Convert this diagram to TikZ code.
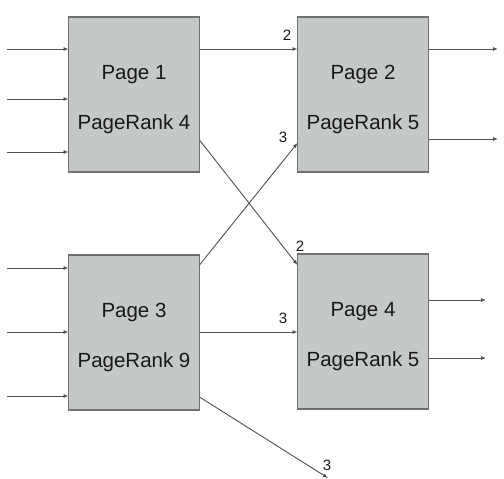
\documentclass[tikz,border=0pt]{standalone}
\usepackage{fontspec}
\setmainfont{Liberation Sans}
\usetikzlibrary{arrows.meta}
\definecolor{boxfill}{HTML}{C4C8C6}
\definecolor{boxline}{HTML}{707070}
\definecolor{linkline}{HTML}{505050}
\begin{document}
\begin{tikzpicture}[x=1pt,y=-1pt,
  pagebox/.style={draw=boxline,line width=1.2pt,fill=boxfill,inner sep=0pt,outer sep=0pt,
    minimum width=131pt,minimum height=155pt},
  pagetext/.style={font=\fontsize{20.5}{24}\selectfont,text=black!90,inner sep=0pt,anchor=base},
  link/.style={draw=linkline,line width=0.9pt,-{Latex[length=5pt,width=4pt]}},
  weight/.style={font=\fontsize{15}{15}\selectfont,text=black!90,inner sep=0pt}]
  \useasboundingbox (0,0) rectangle (504,479);

  % the four pages
  \node[pagebox] (p1) at (134,94.5) {};
  \node[pagebox] (p2) at (363,94.5) {};
  \node[pagebox] (p3) at (134,332.5) {};
  \node[pagebox] (p4) at (363,331.5) {};

  % page titles and ranks
  \foreach \p/\r in {1/4,2/5,3/9,4/5} {
    \node[pagetext] (t\p) at ([yshift=15.5pt]p\p.center) {Page \p};
    \node[pagetext] (r\p) at ([yshift=-34.5pt]p\p.center) {PageRank \r};
  }

  % loose ends of the incoming and outgoing links
  \foreach \y [count=\i] in {49,99,152} \coordinate (in1\i) at (7,\y);
  \foreach \y [count=\i] in {268,332,396} \coordinate (in3\i) at (7,\y);
  \coordinate (out21) at (498,49);
  \coordinate (out22) at (498,139);
  \coordinate (out41) at (486,300);
  \coordinate (out42) at (486,358);
  \coordinate (out3) at (328,478);

  % incoming links
  \foreach \i in {1,2,3} {
    \draw[link] (in1\i) -- (in1\i -| p1.west);
    \draw[link] (in3\i) -- (in3\i -| p3.west);
  }

  % outgoing links
  \draw[link] (out21 -| p2.east) -- (out21);
  \draw[link] (out22 -| p2.east) -- (out22);
  \draw[link] (out41 -| p4.east) -- (out41);
  \draw[link] (out42 -| p4.east) -- (out42);

  % links between pages
  \draw[link] (p1.east |- in11) -- (p2.west |- in11);
  \draw[link] ([yshift=-45.5pt]p1.east) -- ([yshift=66.5pt]p4.west);
  \draw[link] ([yshift=67.5pt]p3.east) -- ([yshift=-48.5pt]p2.west);
  \draw[link] (p3.east |- in32) -- (p4.west |- in32);
  \draw[link] ([yshift=-64.5pt]p3.east) -- (out3);

  % link weights
  \node[weight] (w1) at (287,35) {2};
  \node[weight] (w2) at (300,246) {2};
  \node[weight] (w3) at (283,137) {3};
  \node[weight] (w4) at (283,318) {3};
  \node[weight] (w5) at (327,465) {3};
\end{tikzpicture}
\end{document}
